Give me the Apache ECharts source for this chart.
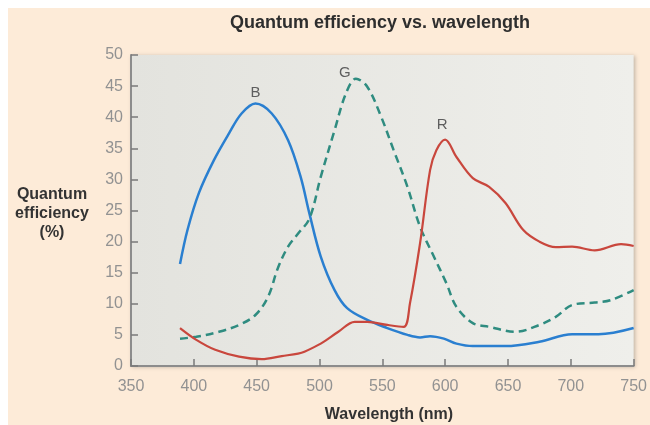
<!DOCTYPE html>
<html>
<head>
<meta charset="utf-8">
<script src="https://cdn.jsdelivr.net/npm/echarts@6/dist/echarts.min.js"></script>
<style>
html,body{margin:0;padding:0;background:#ffffff;width:650px;height:425px;overflow:hidden;}
#bg{position:absolute;left:8px;top:8px;right:0;bottom:0;background:#fdebd8;}
#chart{position:absolute;left:0;top:0;width:650px;height:425px;}
</style>
</head>
<body>
<div id="bg"></div>
<div id="chart"></div>
<script>
// Data
var titleText = 'Quantum efficiency vs. wavelength';
var xName = 'Wavelength (nm)';
var yName = 'Quantum\nefficiency\n(%)';
var xTicks = [350, 400, 450, 500, 550, 600, 650, 700, 750];
var yTicks = [0, 5, 10, 15, 20, 25, 30, 35, 40, 45, 50];

var seriesNames = ['B', 'G', 'R'];

var blueX = [389,395,404,416,428,438,449,462,475,485,492,501,512,522,538,554,570,580,588,599,609,622,648,675,701,722,750];
var blueY = [16.4,21.9,27.8,33.1,37.4,40.6,42.2,40.6,36.3,30.4,24.5,17.6,12.2,9.3,7.4,6.1,5.0,4.6,4.8,4.4,3.6,3.2,3.2,3.9,5.1,5.1,6.1];

var greenX = [389,402,420,436,449,459,467,475,483,492,501,512,521,529,538,549,559,570,580,591,601,609,622,635,656,675,688,701,719,732,750];
var greenY = [4.4,4.7,5.5,6.6,8.2,11.1,15.8,19.2,21.3,23.7,30.4,37.9,43.8,46.2,44.9,40.1,34.7,28.8,22.4,17.6,13.3,9.5,6.9,6.3,5.5,6.6,7.9,9.8,10.2,10.6,12.2];

var redX = [389,402,417,436,454,470,483,488,501,515,528,538,554,567,572,580,588,593,600,609,622,635,648,662,675,688,701,719,740,750];
var redY = [6.1,4.2,2.6,1.5,1.1,1.6,2.0,2.3,3.6,5.5,7.1,7.1,6.6,6.3,10.1,19.7,31.5,34.7,36.4,33.6,30.2,28.8,26.2,21.9,20.0,19.1,19.2,18.6,19.6,19.3];

var labelIndex = [6, 13, 18];
var labelOffset = [[0, 1], [-11, 6], [-3, -3]];

var labelFont = 'Liberation Sans, Arial, sans-serif';

function lineSeries(k, xs, ys, style) {
  var li = labelIndex[k];
  return {
    name: seriesNames[k], type: 'line',
    data: xs.map(function (x, i) { return [x, ys[i]]; }),
    smooth: 0.35, symbol: 'none', showSymbol: false,
    lineStyle: style, itemStyle: { color: style.color },
    emphasis: { disabled: true },
    markPoint: {
      symbol: 'circle', symbolSize: 1, silent: true,
      itemStyle: { color: 'rgba(0,0,0,0)' },
      label: { show: true, position: 'top', distance: 4, offset: labelOffset[k],
        color: '#5e5e5e', fontSize: 15, fontFamily: labelFont,
        formatter: function () { return seriesNames[k]; } },
      data: [{ coord: [xs[li], ys[li]], value: seriesNames[k] }]
    }
  };
}

var chart = echarts.init(document.getElementById('chart'), null, { renderer: 'canvas' });
chart.setOption({
  backgroundColor: 'transparent',
  animation: false,
  grid: {
    show: true, left: 131, right: 11, top: 55, bottom: 59,
    backgroundColor: {
      type: 'linear', x: 0, y: 0, x2: 1, y2: 0,
      colorStops: [{ offset: 0, color: '#e3e3de' }, { offset: 1, color: '#efefeb' }]
    },
    borderWidth: 0,
    shadowColor: 'rgba(0,0,0,0.25)', shadowBlur: 4, shadowOffsetX: 1, shadowOffsetY: 1
  },
  xAxis: {
    type: 'value', min: xTicks[0], max: xTicks[xTicks.length - 1], interval: 50,
    axisLine: { show: true, lineStyle: { color: '#8c8c8c', width: 2 } },
    axisTick: { show: true, inside: true, length: 7, lineStyle: { color: '#7a7a7a', width: 1.5 } },
    splitLine: { show: false },
    axisLabel: { color: '#929292', fontSize: 16, margin: 13, fontFamily: labelFont }
  },
  yAxis: {
    type: 'value', min: yTicks[0], max: yTicks[yTicks.length - 1], interval: 5,
    axisLine: { show: true, lineStyle: { color: '#8c8c8c', width: 2 } },
    axisTick: { show: true, inside: true, length: 7, lineStyle: { color: '#7a7a7a', width: 1.5 } },
    splitLine: { show: false },
    axisLabel: { color: '#929292', fontSize: 16, margin: 8, fontFamily: labelFont }
  },
  graphic: [
    { type: 'text', x: 380, y: 23, style: { text: titleText, textAlign: 'center', textVerticalAlign: 'middle',
      font: 'bold 18px ' + labelFont, fill: '#2e2e2e' } },
    { type: 'text', x: 389, y: 415, style: { text: xName, textAlign: 'center', textVerticalAlign: 'middle',
      font: 'bold 16px ' + labelFont, fill: '#333333' } },
    { type: 'text', x: 52, y: 214, style: { text: yName, textAlign: 'center', textVerticalAlign: 'middle',
      font: 'bold 16px ' + labelFont, fill: '#333333', lineHeight: 19 } }
  ],
  series: [
    lineSeries(0, blueX, blueY, { color: '#2a7fd0', width: 2.5 }),
    lineSeries(1, greenX, greenY, { color: '#2f8c80', width: 2.5, type: [8, 5] }),
    lineSeries(2, redX, redY, { color: '#c9473d', width: 2.2 })
  ]
});
</script>
</body>
</html>
